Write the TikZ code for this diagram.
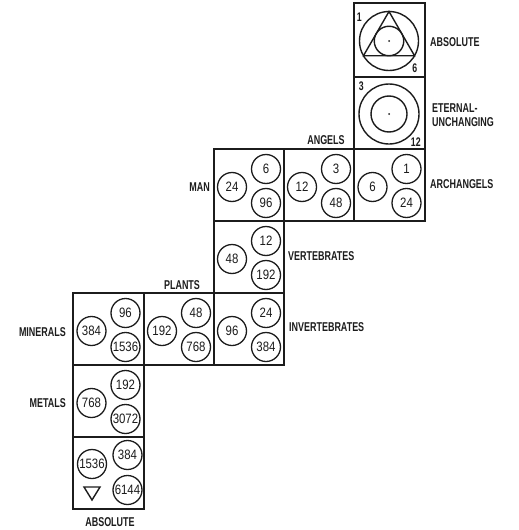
\documentclass[tikz,border=0pt]{standalone}
\usepackage{fontspec}
\newfontfamily\lblfont[FakeStretch=0.70]{Liberation Sans}
\newfontfamily\numfont[FakeStretch=0.84]{Liberation Sans}
\definecolor{ink}{HTML}{1C1C1C}
\newcommand\cellnums[5][0]{%
  \node[num] (#2-l) at ([shift={(-17,2)}]#2.center) {\makebox[0pt]{#3}};
  \node[num] (#2-t) at ([shift={(17,-16)}]#2.center) {\makebox[0pt]{#4}};
  \node[num] (#2-b) at ([shift={(17,18)}]#2.center) {\makebox[0pt]{#5}};
}
\begin{document}
\begin{tikzpicture}[x=1pt,y=-1pt,
  cell/.style={draw=ink, line width=1.8pt, minimum width=70.5pt, minimum height=72pt, inner sep=0pt, outer sep=0pt},
  num/.style={circle, draw=ink, line width=1.3pt, minimum size=29pt, inner sep=0pt, outer sep=0pt, text=ink,
    font=\numfont\fontsize{13.6}{14}\selectfont},
  lbl/.style={font=\lblfont\bfseries\fontsize{12.8}{14}\selectfont, text=ink, inner sep=0pt},
  corner/.style={font=\lblfont\bfseries\fontsize{12.5}{13}\selectfont, text=ink, inner sep=0pt},
  ring/.style={circle, draw=ink, line width=1.4pt, inner sep=0pt, outer sep=0pt}]
\useasboundingbox[fill=white] (0,0) rectangle (519,530);

% cells
\node[cell, minimum height=74pt] (A1) at (389.5,40) {};
\node[cell] (A2) at (389.5,113) {};
\node[cell] (arch) at (389.5,185) {};
\node[cell] (ang) at (319,185) {};
\node[cell] (man) at (249,185) {};
\node[cell] (vert) at (249,257) {};
\node[cell] (inv) at (249,329) {};
\node[cell] (pla) at (179,329) {};
\node[cell] (min) at (108.5,329) {};
\node[cell] (met) at (108.5,401) {};
\node[cell] (A7) at (108.5,473) {};

% absolute (top)
\node[ring, minimum size=59pt] (o1) at ([shift={(-0.5,1)}]A1.center) {};
\draw[ink, line width=1.4pt, line join=miter] (o1.90) -- (o1.210) -- (o1.330) -- cycle;
\node[ring, minimum size=29.5pt] (i1) at (o1.center) {};
\fill[ink] (o1.center) circle (1pt);
\node[corner] (n1) at ([shift={(5,14)}]A1.north west) {1};
\node[corner] (n6) at ([shift={(-10,-9)}]A1.south east) {6};

% eternal-unchanging
\node[ring, minimum size=60pt] (o2) at ([shift={(-0.5,1)}]A2.center) {};
\node[ring, minimum size=36pt] (i2) at (o2.center) {};
\fill[ink] (o2.center) circle (1pt);
\node[corner] (n3) at ([shift={(7,9)}]A2.north west) {3};
\node[corner] (n12) at ([shift={(-9,-7)}]A2.south east) {12};

% number circles
\cellnums{arch}{6}{1}{24}
\cellnums{ang}{12}{3}{48}
\cellnums{man}{24}{6}{96}
\cellnums{vert}{48}{12}{192}
\cellnums{inv}{96}{24}{384}
\cellnums{pla}{192}{48}{768}
\cellnums{min}{384}{96}{1536}
\cellnums{met}{768}{192}{3072}

% absolute (bottom)
\node[num] (A7-l) at ([shift={(-16.5,-9)}]A7.center) {\makebox[0pt]{1536}};
\node[num] (A7-t) at ([shift={(19,-18)}]A7.center) {\makebox[0pt]{384}};
\node[num] (A7-b) at ([shift={(19,17)}]A7.center) {\makebox[0pt]{6144}};
\coordinate (tri) at ([shift={(-16.5,20)}]A7.center);
\draw[ink, line width=1.4pt, line join=miter] (tri) ++(-8,-6) -- ++(16,0) -- ++(-8,13) -- cycle;

% labels
\node[lbl, anchor=west] (labs) at (430,42) {ABSOLUTE};
\node[lbl, anchor=west, align=left] (leter) at (432,115) {ETERNAL-\\UNCHANGING};
\node[lbl] (lang) at (326,140) {ANGELS};
\node[lbl, anchor=west] (larch) at (430,184) {ARCHANGELS};
\node[lbl, anchor=east] (lman) at (210,187) {MAN};
\node[lbl, anchor=west] (lvert) at (288,256) {VERTEBRATES};
\node[lbl] (lpla) at (182,285) {PLANTS};
\node[lbl, anchor=west] (linv) at (289,327) {INVERTEBRATES};
\node[lbl, anchor=east] (lmin) at (66,332) {MINERALS};
\node[lbl, anchor=east] (lmet) at (66,403) {METALS};
\node[lbl] (labs2) at (110,522) {ABSOLUTE};
\end{tikzpicture}
\end{document}
